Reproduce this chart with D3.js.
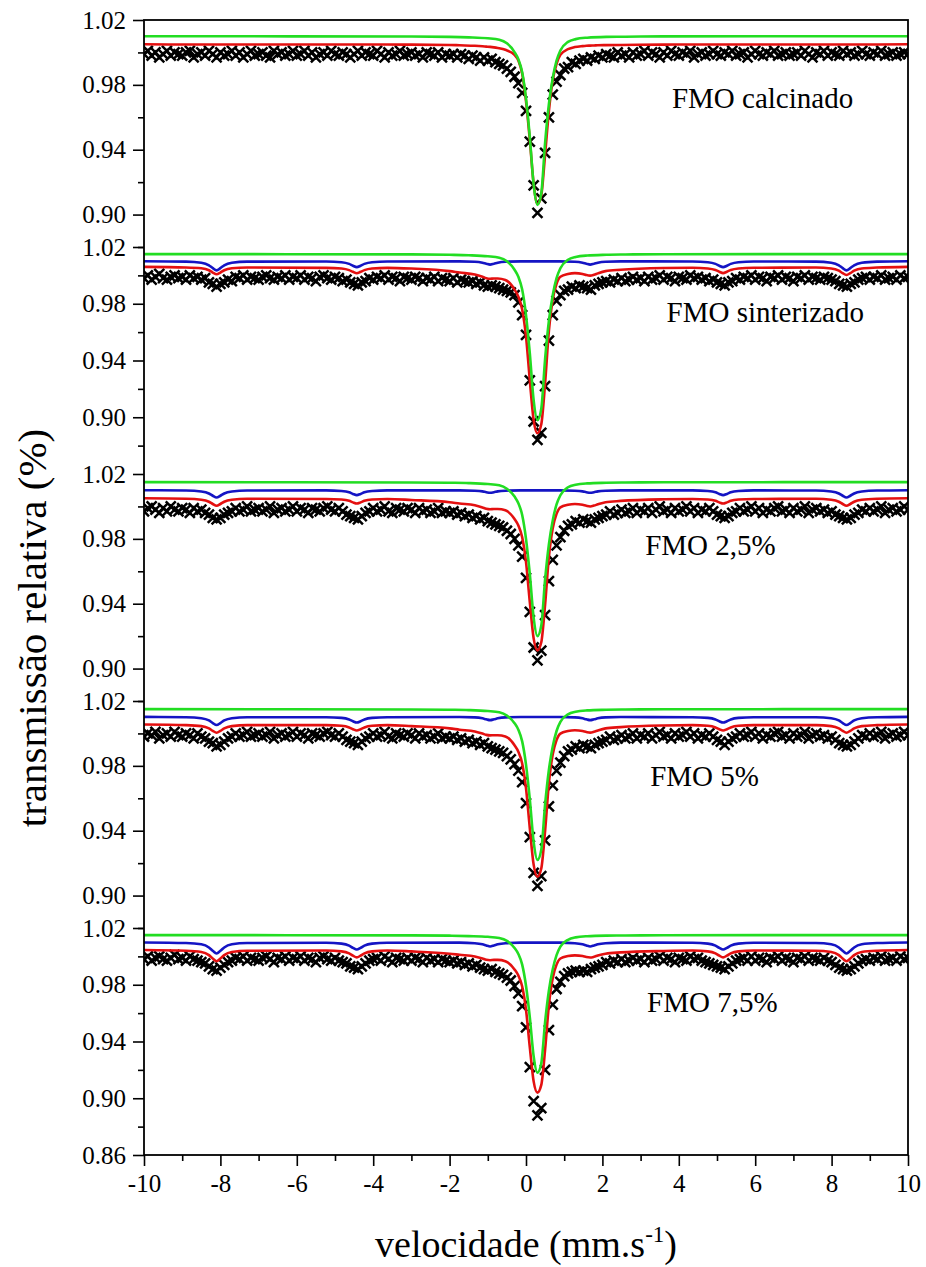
<!DOCTYPE html>
<html>
<head>
<meta charset="utf-8">
<script src="https://cdn.jsdelivr.net/npm/d3@7"></script>
<style>
  body { margin: 0; background: #fff; }
</style>
</head>
<body>
<svg id="chart" width="926" height="1267"></svg>
<script>
// ---- data --------------------------------------------------------------
// spectrometer channels: -10 ... 10 mm/s, 0.1 mm/s apart
const velocity = d3.range(201).map(i => -10 + i / 10);

const panelNames = ["FMO calcinado", "FMO sinterizado", "FMO 2,5%", "FMO 5%", "FMO 7,5%"];
const panelDomains = [[0.88, 1.02], [0.86, 1.02], [0.88, 1.02], [0.88, 1.02], [0.86, 1.02]];
const panelTicks = [
  [1.02, 0.98, 0.94, 0.90],
  [1.02, 0.98, 0.94, 0.90],
  [1.02, 0.98, 0.94, 0.90],
  [1.02, 0.98, 0.94, 0.90],
  [1.02, 0.98, 0.94, 0.90, 0.86]
];
const minorTicks = [1.00, 0.96, 0.92, 0.88];
const xTicks = [-10, -8, -6, -4, -2, 0, 2, 4, 6, 8, 10];
const xMinorTicks = [-9, -7, -5, -3, -1, 1, 3, 5, 7, 9];

// measured transmission (one value per channel)
const obsCalcinado = [
  0.999, 1.001, 0.998, 1.000, 0.997, 0.999, 1.001, 0.998, 1.000, 0.999,
  0.998, 1.000, 1.001, 0.997, 0.999, 1.000, 0.998, 1.001, 0.999, 0.997,
  1.000, 0.998, 0.999, 1.001, 0.998, 1.000, 0.997, 0.999, 1.001, 0.998,
  0.999, 1.000, 0.998, 0.997, 1.001, 0.999, 1.000, 0.998, 0.999, 1.001,
  0.998, 0.999, 1.001, 0.998, 1.000, 0.997, 0.999, 1.000, 0.998, 1.001,
  0.999, 0.998, 1.000, 0.999, 0.997, 0.999, 1.001, 0.998, 1.000, 0.999,
  0.998, 1.001, 0.999, 0.997, 1.000, 0.998, 0.999, 1.001, 0.998, 0.999,
  1.000, 0.998, 0.999, 0.997, 1.000, 0.999, 0.998, 1.000, 0.997, 0.999,
  0.998, 0.999, 0.997, 0.999, 0.998, 0.996, 0.998, 0.997, 0.995, 0.997,
  0.995, 0.996, 0.994, 0.993, 0.992, 0.990, 0.988, 0.985, 0.981, 0.975,
  0.964, 0.945, 0.918, 0.901, 0.910, 0.938, 0.960, 0.974, 0.982, 0.986,
  0.990, 0.991, 0.994, 0.993, 0.995, 0.996, 0.995, 0.997, 0.996, 0.998,
  0.997, 0.999, 0.998, 0.997, 1.000, 0.998, 0.999, 0.997, 1.000, 0.998,
  0.999, 1.001, 0.998, 1.000, 0.999, 0.997, 1.000, 0.998, 1.001, 0.999,
  0.998, 1.000, 0.999, 1.001, 0.997, 0.999, 1.000, 0.998, 0.999, 1.001,
  0.999, 0.998, 1.000, 0.999, 1.001, 0.998, 0.999, 1.000, 0.997, 0.999,
  1.001, 0.999, 0.998, 1.000, 0.999, 1.001, 0.998, 0.999, 1.000, 0.998,
  0.999, 1.000, 0.998, 1.001, 0.999, 0.997, 1.000, 0.999, 1.001, 0.998,
  1.000, 0.999, 0.998, 1.001, 0.999, 1.000, 0.998, 0.999, 1.001, 0.999,
  0.998, 1.000, 0.999, 1.001, 0.998, 0.999, 1.000, 0.998, 0.999, 1.000,
  0.999
];
const obsSinterizado = [
  0.998, 1.000, 0.997, 0.999, 1.001, 0.998, 0.997, 0.999, 1.000, 0.998,
  0.999, 0.997, 1.000, 0.998, 0.999, 0.997, 0.998, 0.995, 0.994, 0.992,
  0.994, 0.995, 0.997, 0.996, 0.999, 0.998, 1.000, 0.997, 0.999, 0.998,
  0.997, 0.999, 1.000, 0.998, 0.997, 0.999, 0.998, 1.000, 0.997, 0.999,
  0.998, 1.000, 0.997, 0.999, 0.998, 0.996, 0.999, 1.000, 0.998, 0.997,
  0.999, 0.998, 0.996, 0.997, 0.995, 0.994, 0.993, 0.995, 0.996, 0.998,
  0.997, 0.999, 0.998, 1.000, 0.997, 0.999, 0.998, 0.996, 0.999, 0.998,
  0.997, 0.999, 0.998, 0.996, 0.998, 0.997, 0.999, 0.996, 0.998, 0.997,
  0.996, 0.998, 0.995, 0.997, 0.996, 0.995, 0.996, 0.994, 0.995, 0.993,
  0.992, 0.993, 0.992, 0.991, 0.990, 0.989, 0.988, 0.986, 0.981, 0.972,
  0.958, 0.926, 0.897, 0.884, 0.889, 0.922, 0.954, 0.972, 0.982, 0.986,
  0.989, 0.990, 0.992, 0.991, 0.993, 0.992, 0.991, 0.990, 0.993, 0.994,
  0.995, 0.996, 0.995, 0.997, 0.996, 0.998, 0.996, 0.997, 0.999, 0.997,
  0.998, 0.996, 0.999, 0.997, 0.998, 1.000, 0.997, 0.999, 0.998, 0.996,
  0.999, 0.998, 0.997, 1.000, 0.998, 0.999, 0.997, 0.998, 0.996, 0.997,
  0.995, 0.994, 0.993, 0.995, 0.996, 0.998, 0.997, 0.999, 0.998, 1.000,
  0.997, 0.999, 0.998, 0.996, 0.999, 0.998, 1.000, 0.997, 0.999, 0.998,
  0.996, 0.999, 0.998, 1.000, 0.997, 0.999, 0.998, 0.997, 0.999, 0.998,
  0.997, 0.996, 0.994, 0.993, 0.992, 0.994, 0.995, 0.997, 0.998, 0.999,
  0.997, 0.999, 0.998, 1.000, 0.997, 0.998, 0.999, 0.997, 1.000, 0.998,
  0.999
];
const obs25 = [
  0.997, 0.999, 1.000, 0.998, 0.996, 0.999, 0.997, 1.000, 0.998, 0.997,
  0.999, 0.998, 0.996, 0.999, 0.997, 0.998, 0.996, 0.995, 0.993, 0.992,
  0.993, 0.995, 0.996, 0.997, 0.999, 0.997, 0.998, 1.000, 0.997, 0.998,
  0.999, 0.997, 0.998, 1.000, 0.996, 0.998, 0.999, 0.997, 0.998, 1.000,
  0.997, 0.999, 0.998, 0.996, 0.999, 0.998, 0.997, 0.999, 1.000, 0.998,
  0.997, 0.999, 0.997, 0.995, 0.994, 0.993, 0.992, 0.994, 0.996, 0.997,
  0.999, 0.997, 0.998, 1.000, 0.997, 0.996, 0.999, 0.998, 0.997, 0.999,
  0.998, 0.996, 0.999, 0.997, 0.998, 0.996, 0.997, 0.999, 0.996, 0.997,
  0.996, 0.997, 0.995, 0.996, 0.994, 0.995, 0.993, 0.994, 0.992, 0.993,
  0.991, 0.990, 0.989, 0.988, 0.987, 0.985, 0.983, 0.980, 0.976, 0.969,
  0.956, 0.935, 0.913, 0.905, 0.911, 0.933, 0.954, 0.967, 0.976, 0.981,
  0.985, 0.988, 0.989, 0.991, 0.990, 0.992, 0.991, 0.990, 0.992, 0.993,
  0.994, 0.995, 0.997, 0.995, 0.996, 0.998, 0.996, 0.997, 0.999, 0.996,
  0.998, 0.997, 0.999, 0.996, 0.998, 1.000, 0.997, 0.998, 0.996, 0.999,
  0.997, 0.998, 1.000, 0.997, 0.999, 0.996, 0.998, 0.997, 0.999, 0.997,
  0.995, 0.994, 0.993, 0.994, 0.996, 0.997, 0.999, 0.997, 0.998, 1.000,
  0.997, 0.999, 0.996, 0.998, 0.997, 0.999, 1.000, 0.997, 0.998, 0.996,
  0.999, 0.997, 0.998, 1.000, 0.996, 0.998, 0.999, 0.997, 0.998, 0.996,
  0.997, 0.995, 0.994, 0.993, 0.992, 0.993, 0.995, 0.996, 0.998, 0.997,
  0.999, 0.997, 0.998, 1.000, 0.996, 0.998, 0.999, 0.997, 0.998, 1.000,
  0.998
];
const obs5 = [
  0.998, 1.000, 0.999, 1.001, 0.997, 0.999, 1.000, 0.998, 1.001, 0.999,
  0.998, 1.000, 0.999, 0.997, 1.000, 0.998, 0.997, 0.995, 0.994, 0.992,
  0.993, 0.995, 0.997, 0.998, 1.000, 0.998, 0.999, 1.001, 0.998, 0.999,
  1.000, 0.998, 0.999, 1.001, 0.997, 0.999, 1.000, 0.998, 0.999, 1.001,
  0.998, 1.000, 0.999, 0.997, 1.000, 0.999, 0.998, 1.000, 1.001, 0.999,
  0.998, 1.000, 0.998, 0.996, 0.995, 0.994, 0.993, 0.995, 0.997, 0.998,
  1.000, 0.998, 0.999, 1.001, 0.998, 0.997, 1.000, 0.999, 0.998, 1.000,
  0.999, 0.997, 1.000, 0.998, 0.999, 0.997, 0.998, 1.000, 0.997, 0.998,
  0.997, 0.998, 0.996, 0.997, 0.995, 0.996, 0.994, 0.995, 0.993, 0.994,
  0.992, 0.991, 0.990, 0.989, 0.988, 0.986, 0.984, 0.981, 0.977, 0.970,
  0.957, 0.936, 0.914, 0.906, 0.912, 0.934, 0.955, 0.968, 0.977, 0.982,
  0.986, 0.989, 0.990, 0.992, 0.991, 0.993, 0.992, 0.991, 0.993, 0.994,
  0.995, 0.996, 0.998, 0.996, 0.997, 0.999, 0.997, 0.998, 1.000, 0.997,
  0.999, 0.998, 1.000, 0.997, 0.999, 1.001, 0.998, 0.999, 0.997, 1.000,
  0.998, 0.999, 1.001, 0.998, 1.000, 0.997, 0.999, 0.998, 1.000, 0.998,
  0.996, 0.995, 0.993, 0.995, 0.997, 0.998, 1.000, 0.998, 0.999, 1.001,
  0.998, 1.000, 0.997, 0.999, 0.998, 1.000, 1.001, 0.998, 0.999, 0.997,
  1.000, 0.998, 0.999, 1.001, 0.997, 0.999, 1.000, 0.998, 0.999, 0.997,
  0.998, 0.996, 0.994, 0.993, 0.992, 0.993, 0.995, 0.997, 0.999, 0.998,
  1.000, 0.998, 0.999, 1.001, 0.997, 0.999, 1.000, 0.998, 0.999, 1.001,
  0.999
];
const obs75 = [
  0.998, 1.000, 0.997, 0.999, 1.000, 0.998, 0.997, 0.999, 1.001, 0.998,
  0.999, 0.997, 1.000, 0.998, 0.997, 0.996, 0.995, 0.993, 0.991, 0.990,
  0.992, 0.994, 0.996, 0.997, 0.999, 0.998, 1.000, 0.997, 0.999, 0.998,
  0.997, 0.999, 1.000, 0.998, 0.996, 0.999, 0.998, 1.000, 0.997, 0.999,
  0.998, 1.000, 0.997, 0.999, 0.998, 0.996, 0.999, 1.000, 0.998, 0.997,
  0.999, 0.997, 0.996, 0.995, 0.993, 0.992, 0.991, 0.993, 0.995, 0.997,
  0.998, 0.999, 0.997, 1.000, 0.998, 0.996, 0.999, 0.998, 0.997, 0.999,
  0.997, 0.999, 0.998, 0.996, 0.999, 0.997, 0.998, 0.996, 0.998, 0.997,
  0.996, 0.997, 0.995, 0.996, 0.994, 0.995, 0.993, 0.994, 0.992, 0.991,
  0.990, 0.991, 0.989, 0.988, 0.987, 0.985, 0.983, 0.979, 0.974, 0.965,
  0.950, 0.922, 0.898, 0.888, 0.893, 0.920, 0.948, 0.966, 0.977, 0.982,
  0.986, 0.988, 0.989, 0.990, 0.989, 0.990, 0.989, 0.991, 0.992, 0.993,
  0.994, 0.996, 0.995, 0.997, 0.996, 0.998, 0.996, 0.997, 0.999, 0.997,
  0.998, 0.996, 0.999, 0.997, 0.998, 1.000, 0.997, 0.999, 0.998, 0.996,
  0.999, 0.998, 0.997, 1.000, 0.998, 0.999, 0.997, 0.996, 0.995, 0.994,
  0.993, 0.992, 0.991, 0.993, 0.995, 0.997, 0.998, 0.999, 0.997, 1.000,
  0.997, 0.999, 0.998, 0.996, 0.999, 0.998, 1.000, 0.997, 0.999, 0.998,
  0.996, 0.999, 0.998, 1.000, 0.997, 0.999, 0.998, 0.997, 0.999, 0.997,
  0.996, 0.994, 0.992, 0.991, 0.990, 0.991, 0.993, 0.995, 0.997, 0.998,
  0.997, 0.999, 0.998, 1.000, 0.997, 0.998, 0.999, 0.997, 1.000, 0.998,
  0.999
];

// fitted curves, read at knot velocities
const greenV = [-10, -3, -2, -1.5, -1.0, -0.7, -0.5, -0.3, -0.2, -0.1, 0.0, 0.1, 0.2, 0.3,
  0.4, 0.5, 0.6, 0.7, 0.8, 0.9, 1.1, 1.3, 1.6, 2.1, 2.6, 3.6, 10];
const greenCalcinado = [1.010, 1.0098, 1.0096, 1.0093, 1.0087, 1.0078, 1.0056, 1.0002, 0.9958, 0.9878,
  0.9717, 0.9478, 0.9185, 0.9060, 0.9131, 0.9443, 0.9682, 0.9842, 0.9949, 1.0012, 1.0065, 1.0082,
  1.0091, 1.0096, 1.0097, 1.0099, 1.010];
const greenSinterizado = [1.015, 1.0148, 1.0145, 1.0142, 1.0135, 1.0125, 1.0100, 1.0040, 0.9990, 0.9900,
  0.9720, 0.9450, 0.9120, 0.8980, 0.9060, 0.9410, 0.9680, 0.9860, 0.9980, 1.0050, 1.0110, 1.0130,
  1.0140, 1.0145, 1.0147, 1.0149, 1.015];
const green25 = [1.015, 1.0148, 1.0146, 1.0144, 1.0138, 1.0130, 1.0109, 1.0061, 1.0020, 0.9947,
  0.9800, 0.9582, 0.9314, 0.9200, 0.9265, 0.9550, 0.9768, 0.9914, 1.0012, 1.0069, 1.0118, 1.0134,
  1.0142, 1.0146, 1.0148, 1.0149, 1.015];
const green5 = [1.015, 1.0148, 1.0146, 1.0144, 1.0138, 1.0130, 1.0110, 1.0063, 1.0023, 0.9951,
  0.9808, 0.9594, 0.9332, 0.9220, 0.9283, 0.9562, 0.9776, 0.9919, 1.0015, 1.0071, 1.0118, 1.0134,
  1.0142, 1.0146, 1.0148, 1.0149, 1.015];
const green75 = [1.015, 1.0148, 1.0146, 1.0143, 1.0138, 1.0129, 1.0109, 1.0059, 1.0017, 0.9942,
  0.9793, 0.9570, 0.9296, 0.9180, 0.9246, 0.9537, 0.9760, 0.9909, 1.0009, 1.0068, 1.0117, 1.0134,
  1.0142, 1.0146, 1.0147, 1.0149, 1.015];

const blueV = [-10,
  -8.9, -8.5, -8.3, -8.2, -8.1, -8.0, -7.9, -7.7, -7.3,
  -5.23, -4.83, -4.63, -4.53, -4.43, -4.33, -4.23, -4.03, -3.63,
  -1.74, -1.34, -1.14, -1.04, -0.94, -0.84, -0.74, -0.54, -0.14,
  0.88, 1.28, 1.48, 1.58, 1.68, 1.78, 1.88, 2.08, 2.48,
  4.36, 4.76, 4.96, 5.06, 5.16, 5.26, 5.36, 5.56, 5.96,
  7.59, 7.99, 8.19, 8.29, 8.39, 8.49, 8.59, 8.79, 9.19,
  10];
const blueSinterizado = [1.010,
  1.0097, 1.0089, 1.0071, 1.0051, 1.0035, 1.0051, 1.0071, 1.0089, 1.0097,
  1.0098, 1.0093, 1.0081, 1.0068, 1.0058, 1.0068, 1.0081, 1.0093, 1.0098,
  1.0099, 1.0096, 1.0089, 1.0082, 1.0076, 1.0082, 1.0089, 1.0096, 1.0099,
  1.0099, 1.0096, 1.0089, 1.0082, 1.0076, 1.0082, 1.0089, 1.0096, 1.0099,
  1.0098, 1.0093, 1.0081, 1.0068, 1.0058, 1.0068, 1.0081, 1.0093, 1.0098,
  1.0097, 1.0089, 1.0071, 1.0051, 1.0035, 1.0051, 1.0071, 1.0089, 1.0097,
  1.010];
const blue25 = [1.010,
  1.0098, 1.0092, 1.0080, 1.0066, 1.0055, 1.0066, 1.0080, 1.0092, 1.0098,
  1.0099, 1.0095, 1.0087, 1.0077, 1.0070, 1.0077, 1.0087, 1.0095, 1.0099,
  1.0099, 1.0097, 1.0093, 1.0088, 1.0084, 1.0088, 1.0093, 1.0097, 1.0099,
  1.0099, 1.0097, 1.0093, 1.0088, 1.0084, 1.0088, 1.0093, 1.0097, 1.0099,
  1.0099, 1.0095, 1.0087, 1.0077, 1.0070, 1.0077, 1.0087, 1.0095, 1.0099,
  1.0098, 1.0092, 1.0080, 1.0066, 1.0055, 1.0066, 1.0080, 1.0092, 1.0098,
  1.010];
const blue5 = [1.0102,
  1.0100, 1.0094, 1.0080, 1.0064, 1.0052, 1.0064, 1.0080, 1.0094, 1.0100,
  1.0100, 1.0096, 1.0086, 1.0075, 1.0067, 1.0075, 1.0086, 1.0096, 1.0100,
  1.0101, 1.0099, 1.0093, 1.0087, 1.0082, 1.0087, 1.0093, 1.0099, 1.0101,
  1.0101, 1.0099, 1.0093, 1.0087, 1.0082, 1.0087, 1.0093, 1.0099, 1.0101,
  1.0100, 1.0096, 1.0086, 1.0075, 1.0067, 1.0075, 1.0086, 1.0096, 1.0100,
  1.0100, 1.0094, 1.0080, 1.0064, 1.0052, 1.0064, 1.0080, 1.0094, 1.0100,
  1.0102];
const blue75 = [1.0098,
  1.0094, 1.0085, 1.0063, 1.0039, 1.0020, 1.0039, 1.0063, 1.0085, 1.0094,
  1.0096, 1.0090, 1.0076, 1.0060, 1.0048, 1.0060, 1.0076, 1.0090, 1.0096,
  1.0097, 1.0093, 1.0085, 1.0077, 1.0070, 1.0077, 1.0085, 1.0093, 1.0097,
  1.0097, 1.0093, 1.0085, 1.0077, 1.0070, 1.0077, 1.0085, 1.0093, 1.0097,
  1.0096, 1.0090, 1.0076, 1.0060, 1.0048, 1.0060, 1.0076, 1.0090, 1.0096,
  1.0094, 1.0085, 1.0063, 1.0039, 1.0020, 1.0039, 1.0063, 1.0085, 1.0094,
  1.0098];

const redV = [-10,
  -8.9, -8.5, -8.3, -8.2, -8.1, -8.0, -7.9, -7.7, -7.3,
  -5.23, -4.83, -4.63, -4.53, -4.43, -4.33, -4.23, -4.03, -3.63,
  -3, -2,
  -1.74, -1.34, -1.14, -1.04, -0.94, -0.84, -0.74, -0.54, -0.3, -0.2, -0.1,
  0, 0.1, 0.2, 0.3, 0.4, 0.5, 0.6, 0.7, 0.8, 0.9, 1.1,
  1.28, 1.48, 1.58, 1.68, 1.78, 1.88, 2.08, 2.48, 3.6,
  4.36, 4.76, 4.96, 5.06, 5.16, 5.26, 5.36, 5.56, 5.96,
  7.59, 7.99, 8.19, 8.29, 8.39, 8.49, 8.59, 8.79, 9.19,
  10];
const redCalcinado = [1.0050,
  1.0049, 1.0049, 1.0049, 1.0049, 1.0049, 1.0049, 1.0049, 1.0049, 1.0049,
  1.0049, 1.0049, 1.0049, 1.0049, 1.0049, 1.0049, 1.0049, 1.0049, 1.0049,
  1.0048, 1.0046,
  1.0044, 1.0041, 1.0038, 1.0036, 1.0034, 1.0031, 1.0027, 1.0016, 0.9985, 0.9950, 0.9870,
  0.9700, 0.9460, 0.9190, 0.9065, 0.9120, 0.9370, 0.9640, 0.9830, 0.9930, 0.9985, 1.0020,
  1.0033, 1.0039, 1.0041, 1.0042, 1.0043, 1.0044, 1.0045, 1.0046, 1.0048,
  1.0049, 1.0049, 1.0049, 1.0049, 1.0049, 1.0049, 1.0049, 1.0049, 1.0049,
  1.0049, 1.0049, 1.0049, 1.0049, 1.0049, 1.0049, 1.0049, 1.0049, 1.0049,
  1.0050];
const redSinterizado = [1.0060,
  1.0056, 1.0050, 1.0036, 1.0020, 1.0008, 1.0020, 1.0036, 1.0050, 1.0056,
  1.0053, 1.0048, 1.0037, 1.0025, 1.0015, 1.0025, 1.0037, 1.0048, 1.0053,
  1.0048, 1.0030,
  1.0020, 1.0006, 0.9990, 0.9980, 0.9976, 0.9978, 0.9978, 0.9968, 0.9900, 0.9850, 0.9760,
  0.9570, 0.9260, 0.8980, 0.8887, 0.8950, 0.9240, 0.9610, 0.9830, 0.9940, 0.9990, 1.0010,
  1.0016, 1.0010, 1.0002, 0.9998, 1.0004, 1.0014, 1.0030, 1.0040, 1.0052,
  1.0054, 1.0049, 1.0038, 1.0026, 1.0016, 1.0026, 1.0038, 1.0049, 1.0054,
  1.0055, 1.0049, 1.0033, 1.0016, 1.0003, 1.0016, 1.0033, 1.0049, 1.0055,
  1.0060];
const red25 = [1.0050,
  1.0047, 1.0041, 1.0029, 1.0015, 1.0004, 1.0015, 1.0029, 1.0041, 1.0047,
  1.0046, 1.0043, 1.0035, 1.0025, 1.0018, 1.0025, 1.0035, 1.0043, 1.0046,
  1.0040, 1.0026,
  1.0018, 1.0007, 0.9994, 0.9986, 0.9983, 0.9984, 0.9984, 0.9976, 0.9922, 0.9882, 0.9810,
  0.9658, 0.9410, 0.9186, 0.9112, 0.9162, 0.9394, 0.9690, 0.9866, 0.9954, 0.9994, 1.0010,
  1.0015, 1.0010, 1.0004, 1.0000, 1.0005, 1.0013, 1.0026, 1.0034, 1.0044,
  1.0046, 1.0043, 1.0035, 1.0025, 1.0018, 1.0025, 1.0035, 1.0043, 1.0046,
  1.0047, 1.0041, 1.0029, 1.0015, 1.0004, 1.0015, 1.0029, 1.0041, 1.0047,
  1.0050];
const red5 = [1.0055,
  1.0051, 1.0045, 1.0031, 1.0016, 1.0004, 1.0016, 1.0031, 1.0045, 1.0051,
  1.0051, 1.0047, 1.0037, 1.0026, 1.0018, 1.0026, 1.0037, 1.0047, 1.0051,
  1.0045, 1.0031,
  1.0023, 1.0012, 0.9999, 0.9991, 0.9988, 0.9989, 0.9989, 0.9981, 0.9927, 0.9887, 0.9815,
  0.9663, 0.9415, 0.9191, 0.9117, 0.9167, 0.9399, 0.9695, 0.9871, 0.9959, 0.9999, 1.0015,
  1.0020, 1.0015, 1.0009, 1.0005, 1.0010, 1.0018, 1.0031, 1.0039, 1.0049,
  1.0051, 1.0047, 1.0037, 1.0026, 1.0018, 1.0026, 1.0037, 1.0047, 1.0051,
  1.0051, 1.0045, 1.0031, 1.0016, 1.0004, 1.0016, 1.0031, 1.0045, 1.0051,
  1.0055];
const red75 = [1.0045,
  1.0040, 1.0031, 1.0009, 0.9985, 0.9966, 0.9985, 1.0009, 1.0031, 1.0040,
  1.0041, 1.0035, 1.0021, 1.0005, 0.9993, 1.0005, 1.0021, 1.0035, 1.0041,
  1.0035, 1.0019,
  1.0011, 0.9999, 0.9985, 0.9976, 0.9973, 0.9975, 0.9975, 0.9966, 0.9908, 0.9865, 0.9788,
  0.9625, 0.9359, 0.9119, 0.9040, 0.9094, 0.9342, 0.9659, 0.9848, 0.9942, 0.9985, 1.0002,
  1.0007, 1.0002, 0.9995, 0.9992, 0.9997, 1.0006, 1.0019, 1.0028, 1.0038,
  1.0041, 1.0035, 1.0021, 1.0005, 0.9993, 1.0005, 1.0021, 1.0035, 1.0041,
  1.0040, 1.0031, 1.0009, 0.9985, 0.9966, 0.9985, 1.0009, 1.0031, 1.0040,
  1.0045];

// ---- layout ------------------------------------------------------------
const serif = '"Liberation Serif", "Times New Roman", "DejaVu Serif", serif';
const plotLeft = 144, plotRight = 908, plotTop = 20, panelH = 227, nPanels = 5;
const plotBottom = plotTop + panelH * nPanels;

// label anchor (velocity, transmission) per panel
const labelAt = [[3.82, 0.9657], [3.68, 0.9674], [3.12, 0.970], [3.25, 0.9676], [3.17, 0.9608]];

const panels = panelNames.map((name, i) => ({
  name: name,
  domain: panelDomains[i],
  ticks: panelTicks[i],
  obs: [obsCalcinado, obsSinterizado, obs25, obs5, obs75][i],
  green: [greenCalcinado, greenSinterizado, green25, green5, green75][i],
  blue: [null, blueSinterizado, blue25, blue5, blue75][i],
  red: [redCalcinado, redSinterizado, red25, red5, red75][i]
}));

const svg = d3.select("#chart");

svg.append("defs").append("clipPath").attr("id", "plotClip")
  .append("rect")
  .attr("x", plotLeft).attr("y", plotTop)
  .attr("width", plotRight - plotLeft).attr("height", plotBottom - plotTop);

const x = d3.scaleLinear().domain([-10, 10]).range([plotLeft, plotRight]);

const crossPath = "M-5,-5L5,5M-5,5L5,-5";

panels.forEach(function(p, i) {
  const top = plotTop + i * panelH;
  const y = d3.scaleLinear().domain(p.domain).range([top + panelH, top]);

  const g = svg.append("g").attr("clip-path", "url(#plotClip)");

  // measured points
  g.selectAll("path.obs")
    .data(p.obs)
    .enter()
    .append("path")
    .attr("class", "obs")
    .attr("d", crossPath)
    .attr("transform", (d, j) => "translate(" + x(velocity[j]) + "," + y(d) + ")")
    .attr("fill", "none")
    .attr("stroke", "#000")
    .attr("stroke-width", 2.5);

  const line = knots => d3.line()
    .x((d, j) => x(knots[j]))
    .y(d => y(d))
    .curve(d3.curveMonotoneX);

  g.append("path")
    .datum(p.red)
    .attr("d", line(redV))
    .attr("fill", "none")
    .attr("stroke", "#e41010")
    .attr("stroke-width", 2.6);

  if (p.blue) {
    g.append("path")
      .datum(p.blue)
      .attr("d", line(blueV))
      .attr("fill", "none")
      .attr("stroke", "#1414c4")
      .attr("stroke-width", 2.6);
  }

  g.append("path")
    .datum(p.green)
    .attr("d", line(greenV))
    .attr("fill", "none")
    .attr("stroke", "#22dd22")
    .attr("stroke-width", 2.6);

  // y axis for this panel
  const yAxis = svg.append("g")
    .attr("transform", "translate(" + plotLeft + ",0)")
    .call(d3.axisLeft(y)
      .tickValues(p.ticks)
      .tickSize(11)
      .tickPadding(7)
      .tickFormat(d3.format(".2f")));
  yAxis.select(".domain").remove();
  yAxis.selectAll("text").style("font-family", serif).style("font-size", "25px");
  yAxis.selectAll("line").attr("stroke-width", 1.6);

  const yMinor = svg.append("g")
    .attr("transform", "translate(" + plotLeft + ",0)")
    .call(d3.axisLeft(y).tickValues(minorTicks).tickSize(6).tickFormat(""));
  yMinor.select(".domain").remove();
  yMinor.selectAll("line").attr("stroke-width", 1.6);

  svg.append("text")
    .attr("x", x(labelAt[i][0]))
    .attr("y", y(labelAt[i][1]))
    .style("font-family", serif)
    .style("font-size", "29px")
    .text(p.name);
});

// x axis
const xAxis = svg.append("g")
  .attr("transform", "translate(0," + plotBottom + ")")
  .call(d3.axisBottom(x).tickValues(xTicks).tickSize(11).tickPadding(8)
    .tickFormat(d => String(d)));
xAxis.select(".domain").remove();
xAxis.selectAll("text").style("font-family", serif).style("font-size", "25px");
xAxis.selectAll("line").attr("stroke-width", 1.6);

const xMinor = svg.append("g")
  .attr("transform", "translate(0," + plotBottom + ")")
  .call(d3.axisBottom(x).tickValues(xMinorTicks).tickSize(6).tickFormat(""));
xMinor.select(".domain").remove();
xMinor.selectAll("line").attr("stroke-width", 1.6);

// frame
svg.append("rect")
  .attr("x", plotLeft).attr("y", plotTop)
  .attr("width", plotRight - plotLeft).attr("height", plotBottom - plotTop)
  .attr("fill", "none")
  .attr("stroke", "#000")
  .attr("stroke-width", 1.8);

// axis titles
const xTitle = svg.append("text")
  .attr("x", (plotLeft + plotRight) / 2)
  .attr("y", 1257)
  .attr("text-anchor", "middle")
  .style("font-family", serif)
  .style("font-size", "38px");
xTitle.append("tspan").text("velocidade (mm.s");
xTitle.append("tspan").attr("dy", -15).style("font-size", "23px").text("-1");
xTitle.append("tspan").attr("dy", 15).text(")");

svg.append("text")
  .attr("transform", "translate(46," + 628 + ") rotate(-90)")
  .attr("text-anchor", "middle")
  .style("font-family", serif)
  .style("font-size", "41px")
  .text("transmissão relativa (%)");
</script>
</body>
</html>
